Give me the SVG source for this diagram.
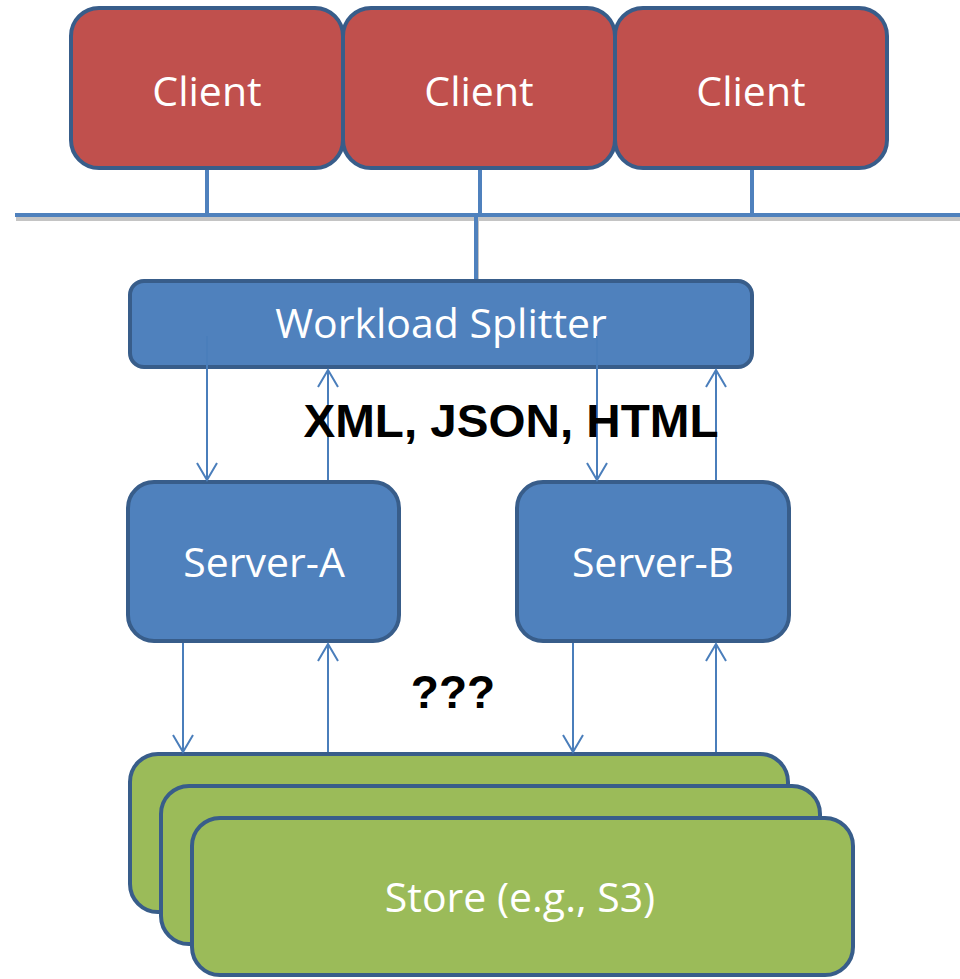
<svg xmlns="http://www.w3.org/2000/svg" width="960" height="979" viewBox="0 0 960 979">
  <style>
    .box { stroke: #385D8A; stroke-width: 4; }
    .client { fill: #C0504D; }
    .blue { fill: #4F81BD; }
    .store { fill: #9BBB59; }
    .label { font-family: "Open Sans", "Noto Sans", sans-serif; font-size: 41px; fill: #FFFFFF; text-anchor: middle; }
    .bold { font-family: "Liberation Sans", Arial, sans-serif; font-weight: bold; font-size: 46px; fill: #000000; text-anchor: middle; }
    .bus { stroke: #4F81BD; stroke-width: 4; fill: none; }
    .shadow { stroke: #C4C4C4; stroke-width: 4; fill: none; }
    .arrow { stroke: #4A7EBB; stroke-width: 2; fill: none; marker-end: url(#open); }
  </style>
  <defs>
    <marker id="open" viewBox="-20 -12 24 24" markerWidth="24" markerHeight="24" refX="0" refY="0" markerUnits="userSpaceOnUse" orient="auto" overflow="visible">
      <path d="M-17,-10 L0,0 L-17,10" fill="none" stroke="#4A7EBB" stroke-width="2"/>
    </marker>
  </defs>

  <!-- shared network bus -->
  <g id="network">
    <g transform="translate(1,4)">
      <line class="shadow" x1="15" y1="215" x2="960" y2="215"/>
      <line class="shadow" x1="476" y1="215" x2="476" y2="279"/>
    </g>
    <line class="bus" x1="15" y1="215" x2="960" y2="215"/>
    <line class="bus" x1="207" y1="168" x2="207" y2="215"/>
    <line class="bus" x1="480" y1="168" x2="480" y2="215"/>
    <line class="bus" x1="752" y1="168" x2="752" y2="215"/>
    <line class="bus" x1="476" y1="215" x2="476" y2="281"/>
  </g>

  <g id="client-1">
    <rect class="box client" x="71" y="8" width="272" height="160" rx="28"/>
    <text class="label" x="207" y="106">Client</text>
  </g>
  <g id="client-2">
    <rect class="box client" x="343" y="8" width="272" height="160" rx="28"/>
    <text class="label" x="479" y="106">Client</text>
  </g>
  <g id="client-3">
    <rect class="box client" x="615" y="8" width="272" height="160" rx="28"/>
    <text class="label" x="751" y="106">Client</text>
  </g>

  <g id="workload-splitter">
    <rect class="box blue" x="130" y="281" width="622" height="86" rx="14"/>
    <text class="label" x="441" y="338">Workload Splitter</text>
  </g>

  <g id="server-a">
    <rect class="box blue" x="128" y="482" width="271" height="159" rx="26"/>
    <text class="label" x="264" y="577">Server-A</text>
  </g>
  <g id="server-b">
    <rect class="box blue" x="517" y="482" width="272" height="159" rx="26"/>
    <text class="label" x="653" y="577">Server-B</text>
  </g>

  <g id="store">
    <rect class="box store" x="130" y="754" width="658" height="158" rx="28"/>
    <rect class="box store" x="161" y="786" width="659" height="158" rx="28"/>
    <rect class="box store" x="192" y="818" width="661" height="157" rx="28"/>
    <text class="label" x="520" y="912">Store (e.g., S3)</text>
  </g>

  <g id="connectors">
    <line class="arrow" x1="207" y1="336" x2="207" y2="480"/>
    <line class="arrow" x1="328" y1="480" x2="328" y2="370"/>
    <line class="arrow" x1="597" y1="336" x2="597" y2="480"/>
    <line class="arrow" x1="716" y1="480" x2="716" y2="370"/>
    <line class="arrow" x1="183" y1="643" x2="183" y2="752"/>
    <line class="arrow" x1="328" y1="752" x2="328" y2="644"/>
    <line class="arrow" x1="573" y1="643" x2="573" y2="752"/>
    <line class="arrow" x1="716" y1="752" x2="716" y2="644"/>
  </g>

  <g id="labels">
    <text class="bold" x="511" y="437" textLength="415" lengthAdjust="spacingAndGlyphs">XML, JSON, HTML</text>
    <text class="bold" x="453" y="708">???</text>
  </g>
</svg>
